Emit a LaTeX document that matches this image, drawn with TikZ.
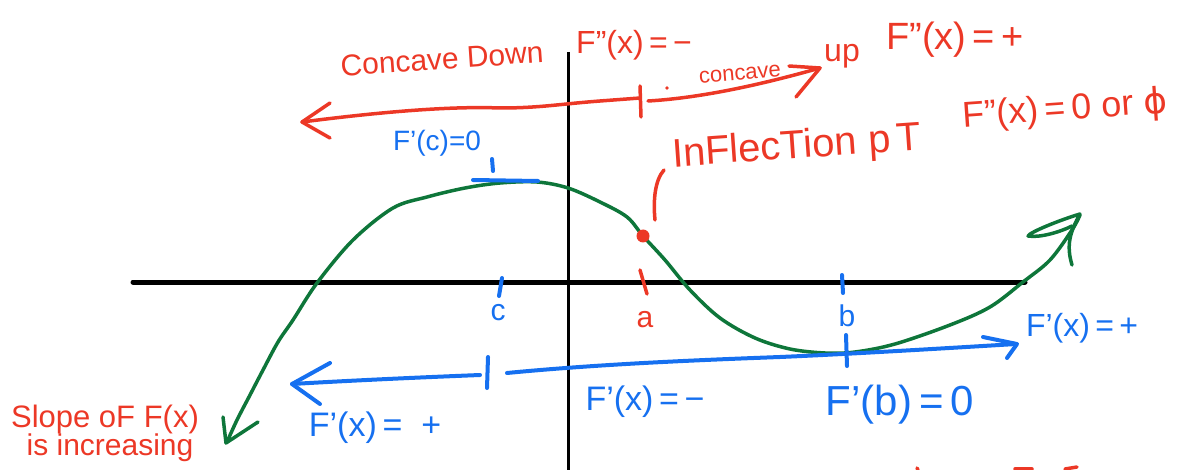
\documentclass[tikz,border=0pt]{standalone}
\usepackage{fontspec}
\setmainfont{Liberation Sans}
\newfontfamily\dvfont{DejaVu Sans}
\definecolor{penred}{RGB}{236,56,38}
\definecolor{penblue}{RGB}{22,112,240}
\definecolor{pengreen}{RGB}{14,118,58}
\newcommand{\fsz}[1]{\fontsize{#1}{#1}\selectfont}
\begin{document}
\begin{tikzpicture}[x=1pt,y=-1pt,
  pen/.style={line width=#1, line cap=round, line join=round},
  redpen/.style={pen=3.5pt, draw=penred},
  bluepen/.style={pen=4pt, draw=penblue},
  greenpen/.style={pen=3.5pt, draw=pengreen},
  axis/.style={line width=#1, draw=black},
  redtxt/.style={text=penred, inner sep=0pt},
  bluetxt/.style={text=penblue, inner sep=0pt}]
\useasboundingbox (0,0) rectangle (1204,470);

% axes
\draw[axis=5pt, line cap=round] (133,282) -- (1025,282);
\draw[axis=3pt] (568,52) -- (568,472);

% green curve
\draw[greenpen] plot[smooth, tension=0.55] coordinates {
  (227,442) (237,420) (250,395) (263,370) (278,342) (293,320) (317,283)
  (353,240) (393,208) (427,197) (465,188) (500,183) (537,182) (568,188)
  (600,202) (627,217) (643,236) (665,260) (690,290) (720,318) (755,338)
  (790,349) (825,353) (855,352) (895,344) (950,325) (990,307) (1023,282)
  (1050,260) (1072,230) (1080,215)};
% green arrowheads
\draw[greenpen] (223,417) -- (226,443) -- (258,422);
\draw[greenpen] (1072,265) .. controls (1066,245) and (1070,232) .. (1080,214)
  .. controls (1060,220) and (1030,232) .. (1028,236)
  .. controls (1040,238) and (1060,232) .. (1072,226);

% red upper arrow (concave down)
\draw[redpen] (302,122) .. controls (380,112) and (450,106) .. (500,108)
  .. controls (540,108) and (560,104) .. (600,101) -- (640,98);
\draw[redpen] (330,103) -- (302,122) -- (330,138);
\draw[redpen] (640,86) -- (641,117);
% red upper-right arrow (concave up)
\draw[redpen] (648,101) .. controls (700,98) and (760,85) .. (820,68);
\draw[redpen] (789,66) -- (820,68) -- (796,97);
\fill[penred] (667,88) circle (1.8pt);

% inflection point
\fill[penred] (643,236) circle (6.5pt);
\draw[redpen] (664,170) .. controls (655,180) and (653,200) .. (655,220);

% tick marks on x-axis
\draw[bluepen] (502,278) -- (499,296);
\draw[redpen] (640,270) -- (647,294);
\draw[bluepen] (842,275) -- (843,293);

% F'(c)=0 tangent mark
\draw[bluepen] (492,159) -- (493,171);
\draw[bluepen] (473,180) -- (538,181);

% blue lower arrow
\draw[bluepen] (292,384) .. controls (360,380) and (430,377) .. (480,375);
\draw[bluepen] (330,363) -- (292,384) -- (320,404);
\draw[bluepen] (488,357) -- (487,388);
\draw[bluepen] (507,373) .. controls (600,364) and (700,360) .. (780,357)
  .. controls (850,354) and (950,348) .. (1016,344);
\draw[bluepen] (983,337) -- (1017,344) -- (1007,358);
\draw[bluepen] (846,335) -- (847,366);

% red texts
\node[redtxt, rotate=4, font=\fsz{30}] (cdown) at (442,59) {Concave Down};
\node[redtxt, font=\fsz{32}] (fppneg) at (634,45) {F''(x)\,=\,−};
\node[redtxt, rotate=5, font=\fsz{22}] (cup) at (740,74) {concave};
\node[redtxt, font=\fsz{32}] (up) at (842,56) {up};
\node[redtxt, font=\fsz{38}] (fpppos) at (955,40) {F''(x)\,=\,+};
\node[redtxt, rotate=4, font=\fsz{40}] (infl) at (797,148) {InFlecTion p\,T};
\node[redtxt, rotate=4, font=\fsz{36}] (fppzero) at (1065,110) {F''(x)\,=\,0 or {\dvfont ϕ}};
\node[redtxt, font=\fsz{30}] (lbla) at (645,320) {a};
\node[redtxt, font=\fsz{31}] (slope1) at (105,419) {Slope oF F(x)};
\node[redtxt, font=\fsz{30}] (slope2) at (110,448) {is increasing};

% blue texts
\node[bluetxt, font=\fsz{28}] (fpc) at (437,143) {F'(c)=0};
\node[bluetxt, font=\fsz{30}] (lblc) at (498,313) {c};
\node[bluetxt, font=\fsz{30}] (lblb) at (847,316) {b};
\node[bluetxt, font=\fsz{32}] (fpxpos) at (1082,328) {F'(x)\,=\,+};
\node[bluetxt, font=\fsz{34}] (fpxneg) at (645,402) {F'(x)\,=\,−};
\node[bluetxt, font=\fsz{34}] (fpxpos2) at (375,428) {F'(x)\,=\;\;+};
\node[bluetxt, font=\fsz{42}] (fpb) at (900,405) {F'(b)\,=\,0};

% red fragments at the bottom edge
\draw[redpen] (917,468) -- (918,470);
\draw[redpen] (1015,469) -- (1032,469);
\draw[redpen] (1065,469) -- (1077,467);
\end{tikzpicture}
\end{document}
